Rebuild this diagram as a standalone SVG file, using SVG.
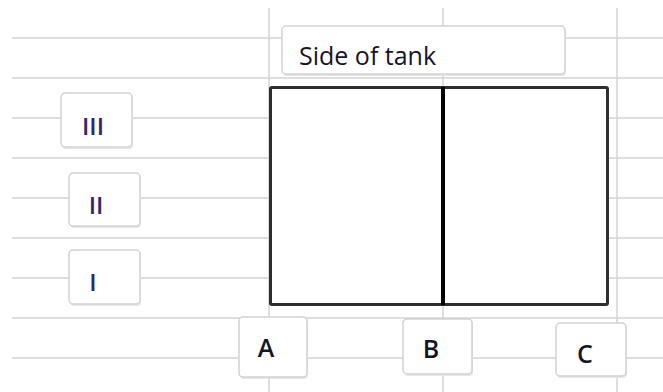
<svg xmlns="http://www.w3.org/2000/svg" width="663" height="392" viewBox="0 0 663 392">
<defs>
<style>
.grid{stroke:#d4d4d4;stroke-width:1.5;fill:none}
.box{fill:#ffffff;stroke:#d2d2d2;stroke-width:1.5}
.shadow{fill:#e6e6e6;stroke:none}
.lbl{font-family:"Open Sans","Liberation Sans",sans-serif;font-size:25px;font-weight:500;fill:#15152a}
.num{font-family:"Open Sans","Liberation Sans",sans-serif;font-size:24px;font-weight:600;fill:#2e2670;text-anchor:middle}
.abc{font-family:"Open Sans","Liberation Sans",sans-serif;font-size:25px;font-weight:600;fill:#15152a;text-anchor:middle}
</style>
</defs>
<rect width="663" height="392" fill="#ffffff"/>
<g id="grid">
<path class="grid" d="M12 38H663M12 78H663M12 118H663M12 158H663M12 198H663M12 238H663M12 278H663M12 318H663M12 358H663"/>
<path class="grid" d="M269 8V392M443 8V392M617 8V392"/>
</g>
<g id="tank">
<rect x="270.5" y="87.5" width="337" height="217" fill="#ffffff" stroke="#2e2e2e" stroke-width="3" rx="1.5"/>
<line x1="443" y1="87" x2="443" y2="305" stroke="#000000" stroke-width="4"/>
</g>
<g id="side">
<rect class="shadow" x="283" y="27" width="283" height="49" rx="4"/>
<rect class="box" x="282" y="26" width="283" height="48" rx="4"/>
<text class="lbl" x="299" y="65">Side of tank</text>
</g>
<g id="n3">
<rect class="shadow" x="62" y="94" width="71" height="55" rx="4"/>
<rect class="box" x="61" y="93" width="71" height="54" rx="4"/>
<text class="num" x="93" y="135">III</text>
</g>
<g id="n2">
<rect class="shadow" x="70" y="174" width="71" height="54" rx="4"/>
<rect class="box" x="69" y="173" width="71" height="53" rx="4"/>
<text class="num" x="96" y="214">II</text>
</g>
<g id="n1">
<rect class="shadow" x="70" y="251" width="71" height="55" rx="4"/>
<rect class="box" x="69" y="250" width="71" height="54" rx="4"/>
<text class="num" x="93" y="291">I</text>
</g>
<g id="nA">
<rect class="shadow" x="240" y="318" width="68" height="61" rx="4"/>
<rect class="box" x="239" y="317" width="68" height="60" rx="4"/>
<text class="abc" x="266" y="357">A</text>
</g>
<g id="nB">
<rect class="shadow" x="404" y="320" width="69" height="56" rx="4"/>
<rect class="box" x="403" y="319" width="69" height="55" rx="4"/>
<text class="abc" x="431" y="358">B</text>
</g>
<g id="nC">
<rect class="shadow" x="557" y="324" width="70" height="54" rx="4"/>
<rect class="box" x="556" y="323" width="70" height="53" rx="4"/>
<text class="abc" x="585" y="363">C</text>
</g>
</svg>
